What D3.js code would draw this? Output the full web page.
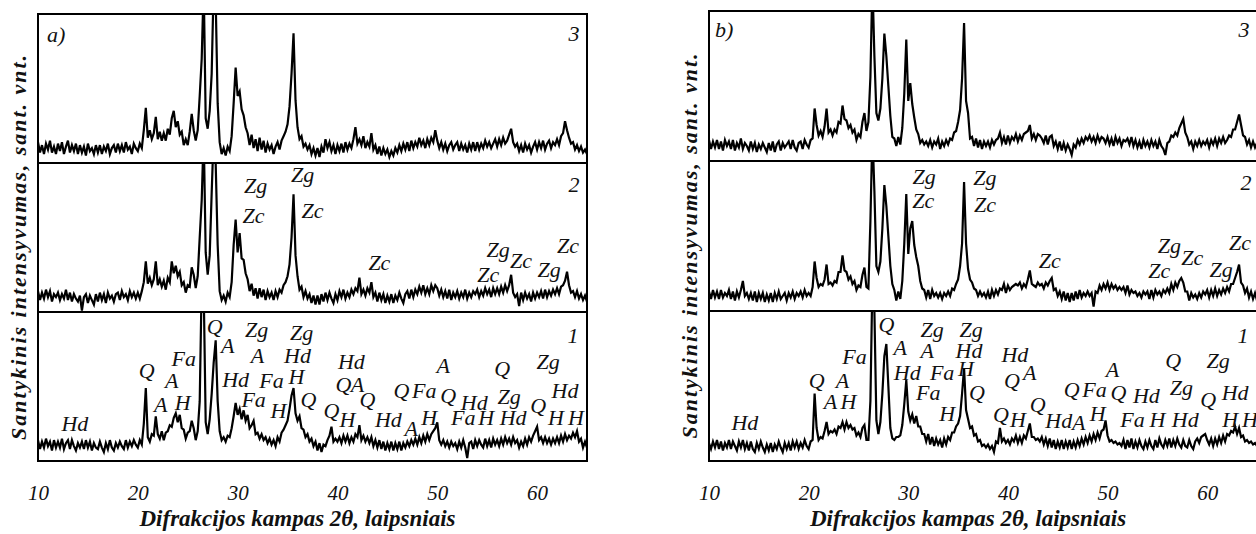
<!DOCTYPE html>
<html>
<head>
<meta charset="utf-8">
<script src="https://cdn.jsdelivr.net/npm/d3@7"></script>
<style>
  html, body { margin: 0; padding: 0; background: #fff; }
  svg { display: block; }
  svg text { font-family: "Liberation Serif", "Times New Roman", Tinos, "Noto Serif", "DejaVu Serif", serif; }
</style>
</head>
<body>
<svg id="chart" width="1256" height="534"></svg>
<script>
// Sampling grid of every diffractogram: 2θ from 10° in 0.2° steps (276 points)
const angleStart = 10;
const angleStep = 0.2;
const angleDomain = [10, 65];
const tickAngles = [10, 20, 30, 40, 50, 60];
const xTitle = "Difrakcijos kampas 2θ, laipsniais";
const yTitle = "Santykinis intensyvumas, sant. vnt.";
const panelTags = ["a)", "b)"];

// Panel a) — relative intensity, 0..100 per strip
const a3 = [
14,7,12,6,13,9,15,7,11,6,
13,8,14,6,11,15,7,12,8,13,
6,12,7,11,5,13,8,10,6,12,
7,12,6,11,8,13,6,10,12,7,
13,8,12,7,14,9,11,6,13,10,
8,13,10,22,37,17,22,16,20,31,
16,21,15,20,15,23,19,30,35,24,
28,19,21,12,16,12,21,33,22,15,
22,45,70,120,30,23,35,60,120,110,
40,14,6,10,5,11,8,18,40,64,
45,48,36,32,24,20,12,19,10,16,
8,17,9,15,7,13,9,12,6,11,
14,9,15,18,21,26,38,60,87,42,
24,16,18,11,13,9,12,6,10,5,
10,4,11,7,16,10,14,8,12,6,
12,8,13,7,14,9,13,10,16,24,
13,16,12,18,10,14,11,20,9,12,
6,11,5,10,6,9,4,8,5,10,
7,12,8,13,9,14,8,15,10,14,
11,17,12,15,10,16,12,17,14,22,
15,10,14,9,13,8,12,14,9,12,
14,8,13,9,12,7,13,9,14,8,
14,9,13,10,15,11,14,10,13,16,
11,16,12,17,13,15,19,23,14,11,
13,8,12,7,13,9,12,7,11,14,
9,14,10,15,9,13,15,10,14,12,
16,12,18,20,28,22,17,13,14,9,
12,8,11,7,9,6];

const a2 = [
14,8,13,9,15,10,14,7,12,10,
13,8,12,9,15,8,13,7,12,9,
7,11,1,10,12,6,11,8,5,12,
7,13,8,12,6,13,9,11,7,12,
13,8,14,10,12,8,14,10,13,9,
13,9,14,20,34,19,23,18,22,34,
18,22,17,21,15,23,20,34,26,31,
24,27,18,20,13,18,17,30,25,16,
24,50,75,120,40,25,38,80,120,100,
45,14,8,11,7,13,10,20,45,62,
40,53,36,35,26,22,14,19,11,16,
9,16,10,15,8,14,10,13,8,14,
10,15,13,18,20,24,32,50,79,38,
24,15,17,10,14,9,12,6,11,5,
11,5,12,7,13,8,13,9,6,12,
8,14,10,15,9,13,10,15,12,16,
14,23,12,15,11,16,13,20,10,13,
7,13,8,12,6,11,7,12,6,11,
8,13,9,6,12,14,9,15,10,15,
12,17,13,18,12,16,12,18,14,18,
16,11,15,10,14,9,15,8,13,10,
14,9,13,10,15,9,13,10,14,12,
15,10,14,11,16,12,15,10,16,12,
16,12,17,13,18,14,18,25,13,10,
12,4,13,8,13,9,12,7,13,9,
13,10,14,9,15,10,14,11,15,12,
16,12,17,18,21,27,18,13,14,10,
14,9,12,8,11,7];

const a1 = [
14,8,13,9,15,10,13,7,14,9,
13,9,15,8,12,14,8,14,10,7,
12,9,13,8,14,9,13,7,12,9,
8,13,9,6,12,8,14,9,7,12,
9,13,10,8,14,9,13,10,14,11,
9,14,11,25,49,16,13,18,17,30,
18,15,20,14,19,20,24,23,29,32,
26,31,22,21,15,19,20,27,22,14,
20,40,120,115,26,18,28,45,66,81,
40,20,14,16,13,17,16,22,30,39,
31,35,28,34,27,31,22,24,27,18,
19,15,18,14,16,12,15,11,14,10,
16,13,19,21,24,27,35,44,49,32,
27,30,22,21,16,18,13,15,10,13,
7,12,6,11,10,14,17,23,13,15,
13,16,12,17,13,17,12,16,13,18,
16,24,14,17,13,16,12,16,10,14,
9,14,8,13,7,12,8,13,7,12,
8,13,7,12,9,13,10,14,11,15,
11,16,12,17,13,18,14,18,20,22,
26,14,11,14,10,13,9,13,10,12,
8,13,9,14,9,2,12,13,8,14,
10,14,11,9,15,10,14,9,15,11,
14,10,15,11,16,12,15,11,16,12,
14,9,13,10,15,11,16,13,17,20,
23,14,16,12,16,12,15,11,15,12,
16,12,17,13,18,14,17,15,19,16,
20,13,15,9,13,9];

// Panel b)
const b3 = [
14,8,13,9,14,8,13,7,14,10,
13,8,14,7,12,9,15,8,12,10,
7,13,8,12,6,11,8,12,9,6,
12,7,13,6,11,13,7,12,9,11,
13,8,14,9,7,12,13,8,14,11,
9,14,15,35,24,17,20,16,23,35,
19,21,17,21,19,26,25,37,28,27,
22,24,19,21,14,18,16,26,32,20,
26,56,120,70,32,27,35,55,85,70,
50,30,16,15,10,16,11,22,45,81,
40,52,38,29,21,18,12,14,11,13,
10,14,9,13,11,15,8,13,10,14,
11,15,14,19,20,26,34,55,92,40,
32,15,16,10,15,9,14,8,13,10,
13,9,14,11,14,15,19,12,16,11,
17,12,16,14,18,13,17,14,18,19,
20,24,15,18,14,18,17,15,12,17,
11,16,17,10,13,8,13,7,12,7,
11,8,4,11,9,14,11,15,12,16,
14,17,13,16,12,17,13,16,15,12,
16,11,15,10,16,12,15,10,14,13,
15,11,16,10,14,9,13,8,14,10,
13,9,14,10,13,8,14,10,8,4,
12,13,17,16,19,17,22,25,28,19,
16,11,13,8,13,10,14,10,13,11,
14,9,14,11,15,10,15,12,16,12,
14,17,16,21,21,26,31,24,17,16,
11,14,9,13,9,12];

const b2 = [
13,8,14,9,13,8,14,9,12,10,
14,8,13,7,13,9,14,20,10,12,
8,12,7,13,6,12,8,12,6,11,
7,12,6,12,8,13,8,10,12,7,
12,9,13,8,12,10,13,9,14,10,
12,10,16,33,22,16,18,17,21,31,
18,19,17,20,19,26,26,37,27,26,
21,23,18,20,14,17,16,24,29,16,
15,60,120,80,30,26,33,55,84,70,
50,30,18,14,7,13,8,20,45,78,
38,55,60,44,36,30,20,15,14,9,
14,8,14,10,12,9,12,8,12,10,
13,10,15,14,18,21,30,45,86,45,
28,21,19,15,14,10,13,10,12,9,
13,8,14,10,14,11,15,14,18,12,
17,14,16,17,18,17,19,15,18,16,
21,27,18,17,16,19,17,18,15,19,
17,20,22,14,15,10,13,8,13,7,
12,6,12,7,13,8,14,9,12,10,
13,10,12,3,13,12,17,14,18,15,
19,14,18,15,17,14,16,14,16,12,
17,11,14,12,13,10,12,9,13,11,
13,8,14,9,14,11,13,10,14,12,
15,12,18,14,19,16,20,22,19,13,
13,7,12,9,11,8,12,9,13,11,
14,9,14,10,15,10,14,11,15,12,
16,13,18,18,22,26,31,19,17,12,
15,9,13,8,12,7];

const b1 = [
12,8,13,9,14,8,13,7,12,9,
14,8,13,10,7,13,9,14,8,12,
7,13,8,6,12,8,13,9,6,11,
7,12,6,11,8,13,9,6,12,8,
12,7,13,9,13,8,12,9,14,10,
8,13,14,45,22,14,16,15,20,26,
18,20,19,21,18,23,22,26,21,26,
22,24,21,22,17,19,16,22,24,14,
14,40,120,100,27,18,26,45,70,78,
50,22,15,14,16,16,17,24,38,54,
33,27,31,25,30,23,23,18,18,13,
18,11,16,10,15,11,14,9,15,11,
16,14,19,19,23,25,30,45,62,34,
28,22,23,17,18,13,14,10,11,9,
11,8,10,6,13,12,22,13,15,12,
14,11,15,13,17,12,16,12,17,15,
20,25,16,16,14,15,13,16,11,15,
10,15,9,14,8,13,9,14,8,13,
9,14,8,13,9,14,10,15,11,16,
12,17,13,18,14,19,15,20,21,27,
17,13,14,12,13,11,12,10,14,8,
14,9,15,8,13,9,14,10,8,13,
9,14,10,8,14,9,15,11,9,14,
10,15,9,14,10,15,11,9,14,10,
9,14,10,8,13,15,12,16,17,18,
14,11,15,10,15,11,16,12,17,13,
18,17,20,19,23,18,22,16,17,13,
14,12,13,11,12,10];

// Phase labels: [text, 2θ, level within the strip]
const labelsA3 = [["3", 63.7, 82]];
const labelsA2 = [
  ["Zg",31.8,80],["Zc",31.6,60],["Zg",36.5,87],["Zc",37.5,63],["Zc",44.2,28],
  ["Zg",56.1,37],["Zc",55.1,20],["Zc",58.4,29.5],["Zg",61.2,23.5],["Zc",63.1,39.6],
  ["2",63.7,80.5]];
const labelsA1 = [
  ["Hd",13.7,20],["Q",20.9,56],["Fa",24.6,64],["A",23.4,49],["A",22.3,33],["H",24.5,34],
  ["Q",27.7,85],["A",29.0,72.5],["Zg",31.9,83],["A",32.0,66],["Hd",29.8,50],["Fa",33.4,49],
  ["Fa",31.6,36],["H",34.1,29],["Zg",36.4,81],["Hd",36.0,66],["H",35.9,52],["Q",37.1,36],
  ["Q",39.4,29],["H",41.0,23],["Hd",41.4,62],["Q",40.6,46],["A",42.0,46],["Q",43.0,36],
  ["Hd",45.1,23],["A",47.4,17],["Q",46.4,42],["Fa",48.7,42],["H",49.2,24],["A",50.6,59],
  ["Q",51.1,39],["Hd",53.7,34],["Fa",52.6,24],["H",54.9,24],["Q",56.5,57],["Zg",57.2,38],
  ["Hd",57.6,24],["Q",60.1,32],["Zg",61.1,62],["Hd",62.8,42],["H",61.9,24],["H",63.9,24],
  ["1",63.6,79]];
const labelsB3 = [["3", 63.7, 83]];
const labelsB2 = [
  ["Zg",31.6,85],["Zc",31.5,69],["Zg",37.7,84],["Zc",37.7,66],["Zc",44.2,29],
  ["Zg",56.2,39],["Zc",55.2,22],["Zc",58.5,31],["Zg",61.4,23],["Zc",63.3,41],
  ["2",63.9,81]];
const labelsB1 = [
  ["Hd",13.6,21],["Q",20.8,49],["Fa",24.6,65],["A",23.4,49],["A",22.2,35],["H",24.0,35],
  ["Q",27.8,86],["A",29.2,71],["Hd",29.9,54],["Zg",32.4,83],["A",31.9,69],["Fa",33.4,54],
  ["Fa",32.0,41],["H",33.9,27],["Zg",36.3,83],["Hd",36.1,69],["H",35.8,57],["Q",36.9,41],
  ["Hd",40.7,66],["Q",40.4,49],["A",42.2,54],["Q",39.3,26],["H",41.0,23],["Q",43.0,33],
  ["Hd",45.1,22],["A",47.1,21],["Q",46.4,43],["Fa",48.7,43],["H",49.0,27],["A",50.5,56],
  ["Q",51.1,41],["Hd",53.9,39],["Fa",52.5,23],["H",55.0,23],["Q",56.6,62],["Zg",57.4,44],
  ["Hd",57.8,23],["Q",60.1,36],["Zg",61.1,62],["Hd",62.8,41],["H",62.3,23],["H",64.3,23],
  ["1",63.6,79]];

// ---- drawing ----
const svg = d3.select("#chart");

const panels = [
  { tag: panelTags[0], tagAt: [10.9, 81], box: { left: 38, right: 587, top: 14, bottom: 461 },
    traces: [a3, a2, a1], labels: [labelsA3, labelsA2, labelsA1] },
  { tag: panelTags[1], tagAt: [10.6, 83], box: { left: 709, right: 1257, top: 11, bottom: 461 },
    traces: [b3, b2, b1], labels: [labelsB3, labelsB2, labelsB1] }
];

panels.forEach((p, pi) => {
  const { left, right, top, bottom } = p.box;
  const x = d3.scaleLinear().domain(angleDomain).range([left, right]);
  const band = (bottom - top) / 3;
  const g = svg.append("g");

  p.traces.forEach((values, j) => {
    const y0 = top + j * band;
    const y = d3.scaleLinear().domain([0, 100]).range([y0 + band, y0]);
    const clipId = `clip-${pi}-${j}`;
    svg.append("clipPath").attr("id", clipId)
      .append("rect").attr("x", left).attr("y", y0).attr("width", right - left).attr("height", band);

    const line = d3.line()
      .x((d, i) => x(angleStart + i * angleStep))
      .y(d => y(d));

    g.append("path")
      .datum(values)
      .attr("clip-path", `url(#${clipId})`)
      .attr("fill", "none")
      .attr("stroke", "#000")
      .attr("stroke-width", 2.2)
      .attr("stroke-linejoin", "miter")
      .attr("d", line);

    g.selectAll(null)
      .data(p.labels[j])
      .enter().append("text")
      .attr("x", d => x(d[1]))
      .attr("y", d => y(d[2]))
      .attr("text-anchor", "middle")
      .attr("font-style", "italic")
      .attr("font-size", 22)
      .attr("fill", "#111")
      .text(d => d[0]);

    if (j === 0) {
      g.append("text")
        .attr("x", x(p.tagAt[0]))
        .attr("y", y(p.tagAt[1]))
        .attr("font-style", "italic")
        .attr("font-size", 22)
        .attr("fill", "#111")
        .text(p.tag);
    }
  });

  // frame and strip separators
  g.append("rect")
    .attr("x", left).attr("y", top)
    .attr("width", right - left).attr("height", bottom - top)
    .attr("fill", "none").attr("stroke", "#000").attr("stroke-width", 2);
  [1, 2].forEach(k => {
    g.append("line")
      .attr("x1", left).attr("x2", right)
      .attr("y1", top + k * band).attr("y2", top + k * band)
      .attr("stroke", "#000").attr("stroke-width", 2);
  });

  // x axis: labels only
  const axis = g.append("g")
    .attr("transform", `translate(0,${bottom})`)
    .call(d3.axisBottom(x).tickValues(tickAngles).tickSize(0).tickPadding(24).tickFormat(d3.format("d")));
  axis.select(".domain").remove();
  axis.attr("font-family", null);
  axis.selectAll("text")
    .attr("font-style", "italic")
    .attr("font-size", 21)
    .attr("fill", "#111");

  g.append("text")
    .attr("x", x(36))
    .attr("y", 526)
    .attr("text-anchor", "middle")
    .attr("font-style", "italic")
    .attr("font-weight", "bold")
    .attr("font-size", 23)
    .attr("fill", "#111")
    .text(xTitle);

  g.append("text")
    .attr("transform", `translate(${left - 12},${(top + bottom) / 2 + 10}) rotate(-90)`)
    .attr("text-anchor", "middle")
    .attr("font-style", "italic")
    .attr("font-weight", "bold")
    .attr("font-size", 22)
    .attr("textLength", 385)
    .attr("lengthAdjust", "spacing")
    .attr("fill", "#111")
    .text(yTitle);
});
</script>
</body>
</html>
